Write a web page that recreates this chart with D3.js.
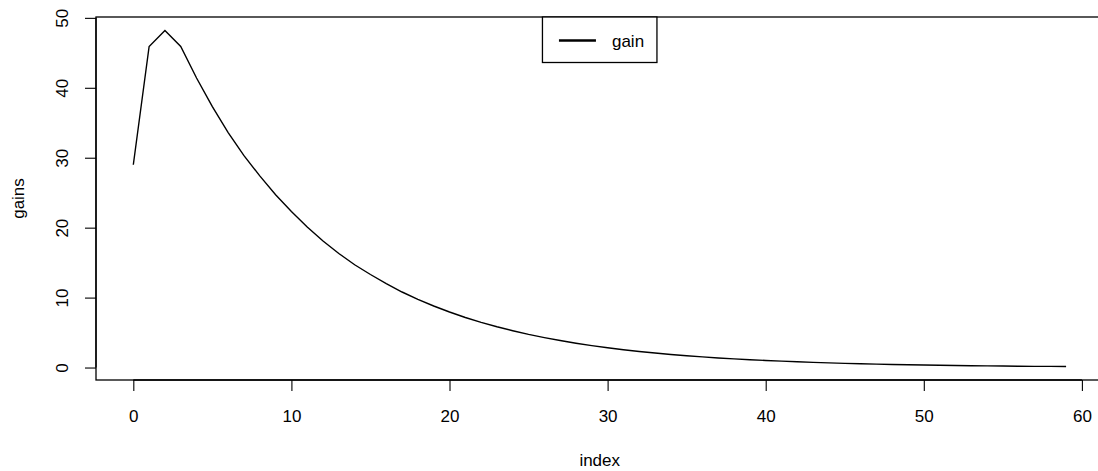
<!DOCTYPE html>
<html>
<head>
<meta charset="utf-8">
<script src="https://cdn.jsdelivr.net/npm/d3@7"></script>
<style>
  body { margin: 0; background: #fff; }
  svg { display: block; font-family: "Liberation Sans", Arial, sans-serif; }
</style>
</head>
<body>
<div id="chart"></div>
<script>
var gains = [
    29.0, 45.9, 48.2, 45.9, 41.4, 37.3, 33.6, 30.3, 27.4, 24.7,
    22.3, 20.1, 18.1, 16.3, 14.7, 13.3, 12.0, 10.8, 9.76, 8.80,
    7.94, 7.16, 6.46, 5.83, 5.26, 4.74, 4.28, 3.86, 3.48, 3.14,
    2.83, 2.55, 2.30, 2.08, 1.87, 1.69, 1.52, 1.37, 1.24, 1.12,
    1.01, 0.91, 0.82, 0.74, 0.67, 0.60, 0.54, 0.49, 0.44, 0.40,
    0.36, 0.32, 0.29, 0.26, 0.24, 0.21, 0.19, 0.17, 0.16, 0.14
];
var index = gains.map(function(d, i) { return i; });
var xTicks = [0, 10, 20, 30, 40, 50, 60];
var yTicks = [0, 10, 20, 30, 40, 50];
var legendLabels = ['gain'];

var width = 1098,
    height = 471,
    plot = { left: 96, top: 17, width: 1007.4, height: 363 };

// R-style 4% padding on each side of the data range
function padded(ext) {
    var d = (ext[1] - ext[0]) * 0.04;
    return [ext[0] - d, ext[1] + d];
}

var x = d3.scaleLinear()
    .domain(padded(d3.extent(index)))
    .range([plot.left, plot.left + plot.width]);

var y = d3.scaleLinear()
    .domain(padded(d3.extent(gains)))
    .range([plot.top + plot.height, plot.top]);

var svg = d3.select('#chart').append('svg')
    .attr('width', width)
    .attr('height', height);

// plot box
svg.append('rect')
    .attr('x', plot.left)
    .attr('y', plot.top)
    .attr('width', plot.width)
    .attr('height', plot.height)
    .attr('fill', 'none')
    .attr('stroke', '#000')
    .attr('stroke-width', 1.3);

var xAxis = d3.axisBottom(x)
    .tickValues(xTicks)
    .tickSize(11)
    .tickFormat(d3.format('d'));

var gx = svg.append('g')
    .attr('transform', 'translate(0,' + (plot.top + plot.height) + ')')
    .call(xAxis);
gx.select('.domain')
    .attr('d', 'M' + x(xTicks[0]) + ',0H' + x(xTicks[xTicks.length - 1]))
    .attr('stroke-width', 1.3);
gx.selectAll('.tick line').attr('stroke-width', 1.1);
gx.selectAll('.tick text')
    .attr('font-size', 17)
    .attr('fill', '#000')
    .attr('dy', null)
    .attr('y', 42);

var yAxis = d3.axisLeft(y)
    .tickValues(yTicks)
    .tickSize(11)
    .tickFormat(d3.format('d'));

var gy = svg.append('g')
    .attr('transform', 'translate(' + plot.left + ',0)')
    .call(yAxis);
gy.select('.domain')
    .attr('d', 'M0,' + y(yTicks[0]) + 'V' + y(yTicks[yTicks.length - 1]))
    .attr('stroke-width', 1.3);
gy.selectAll('.tick line').attr('stroke-width', 1.1);
gy.selectAll('.tick text')
    .attr('font-size', 17)
    .attr('fill', '#000')
    .attr('x', null)
    .attr('dy', null)
    .attr('text-anchor', 'middle')
    .attr('transform', 'translate(-28,0) rotate(-90)');

// axis titles
svg.append('text')
    .attr('x', plot.left + plot.width / 2)
    .attr('y', 466)
    .attr('text-anchor', 'middle')
    .attr('font-size', 17)
    .text('index');

svg.append('text')
    .attr('transform', 'translate(24,' + (plot.top + plot.height / 2) + ') rotate(-90)')
    .attr('text-anchor', 'middle')
    .attr('font-size', 17)
    .text('gains');

// the series
var line = d3.line()
    .x(function(d, i) { return x(index[i]); })
    .y(function(d) { return y(d); });

svg.append('path')
    .datum(gains)
    .attr('d', line)
    .attr('fill', 'none')
    .attr('stroke', '#000')
    .attr('stroke-width', 1.4);

// legend, top centre
var legendW = 114.5,
    legendH = 45.5,
    lx = plot.left + plot.width / 2 - legendW / 2,
    ly = plot.top;

var legend = svg.append('g')
    .attr('transform', 'translate(' + lx + ',' + ly + ')');

legend.append('rect')
    .attr('width', legendW)
    .attr('height', legendH)
    .attr('fill', '#fff')
    .attr('stroke', '#000')
    .attr('stroke-width', 1.3);

legend.selectAll('line.key')
    .data(legendLabels)
    .enter().append('line')
    .attr('class', 'key')
    .attr('x1', 16.5)
    .attr('x2', 53.5)
    .attr('y1', function(d, i) { return 23.5 + i * 22; })
    .attr('y2', function(d, i) { return 23.5 + i * 22; })
    .attr('stroke', '#000')
    .attr('stroke-width', 2.4);

legend.selectAll('text.label')
    .data(legendLabels)
    .enter().append('text')
    .attr('class', 'label')
    .attr('x', 69.5)
    .attr('y', function(d, i) { return 29.5 + i * 22; })
    .attr('font-size', 17)
    .text(function(d) { return d; });
</script>
</body>
</html>
